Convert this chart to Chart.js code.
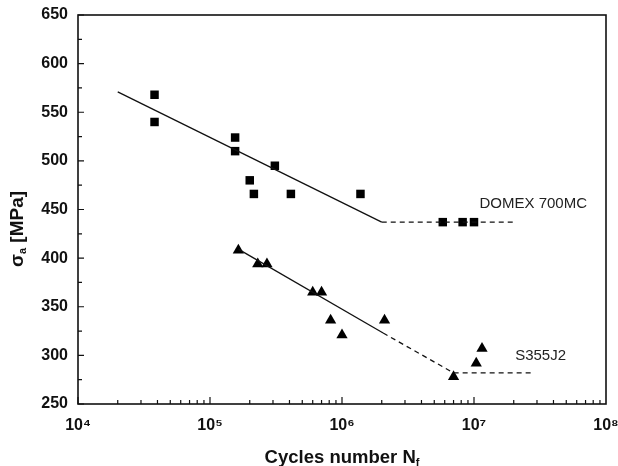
<!DOCTYPE html>
<html>
<head>
<meta charset="utf-8">
<script src="https://cdn.jsdelivr.net/npm/chart.js@4.4.0/dist/chart.umd.min.js"></script>
<style>
  html, body { margin: 0; padding: 0; background: #fff; }
  #wrap { width: 618px; height: 466px; }
</style>
</head>
<body>
<div id="wrap"><canvas id="snChart"></canvas></div>
<script>
// DOMEX 700MC test points
const domexCycles = [3.8e4, 3.8e4, 1.55e5, 1.55e5, 2.0e5, 2.15e5, 3.1e5, 4.1e5, 1.38e6, 5.8e6, 8.2e6, 1.0e7];
const domexStress = [568, 540, 524, 510, 480, 466, 495, 466, 466, 437, 437, 437];

// S355J2 test points
const s355Cycles = [1.64e5, 2.3e5, 2.7e5, 6.0e5, 7.0e5, 8.2e5, 1.0e6, 2.1e6, 7.0e6, 1.04e7, 1.15e7];
const s355Stress = [408, 394, 394, 365, 365, 336, 321, 336, 278, 292, 307];

// fitted S-N curves
const domexFitCycles = [2.0e4, 2.0e6];
const domexFitStress = [571, 437];
const domexLimitCycles = [2.0e6, 2.1e7];
const domexLimitStress = [437, 437];
const s355FitCycles = [1.65e5, 2.05e6];
const s355FitStress = [409, 323];
const s355LimitCycles = [2.05e6, 7.0e6, 2.8e7];
const s355LimitStress = [323, 282, 282];

// axes
const xTickValues = [1e4, 1e5, 1e6, 1e7, 1e8];
const xTickLabels = ['10\u2074', '10\u2075', '10\u2076', '10\u2077', '10\u2078'];
const yTickValues = [250, 300, 350, 400, 450, 500, 550, 600, 650];

const FONT = "'Liberation Sans', Arial, sans-serif";

function pts(xs, ys) {
    return xs.map((x, i) => ({ x: x, y: ys[i] }));
}

// frame, inward ticks, axis titles and curve labels
const decorPlugin = {
    id: 'decor',
    afterDraw(chart) {
        const ctx = chart.ctx;
        const a = chart.chartArea;
        const xs = chart.scales.x;
        const ys = chart.scales.y;
        ctx.save();
        ctx.strokeStyle = '#111';
        ctx.lineWidth = 1.6;
        ctx.strokeRect(a.left, a.top, a.right - a.left, a.bottom - a.top);

        ctx.lineWidth = 1.2;
        ctx.beginPath();
        // y ticks, major every 50, minor every 25
        for (let v = 250; v <= 650; v += 25) {
            const py = ys.getPixelForValue(v);
            const len = (v % 50 === 0) ? 6 : 4;
            ctx.moveTo(a.left, py);
            ctx.lineTo(a.left + len, py);
        }
        // x ticks, log decades with minors
        for (let e = 4; e < 8; e++) {
            for (let k = 1; k <= 9; k++) {
                const px = xs.getPixelForValue(k * Math.pow(10, e));
                const len = k === 1 ? 7 : 4;
                ctx.moveTo(px, a.bottom);
                ctx.lineTo(px, a.bottom - len);
            }
        }
        ctx.stroke();

        // curve labels
        ctx.fillStyle = '#222';
        ctx.font = '15px ' + FONT;
        ctx.textBaseline = 'middle';
        ctx.textAlign = 'left';
        ctx.fillText('DOMEX 700MC', xs.getPixelForValue(1.1e7), ys.getPixelForValue(456));
        ctx.fillText('S355J2', xs.getPixelForValue(2.05e7), ys.getPixelForValue(300));

        // x title with subscript
        ctx.fillStyle = '#111';
        const main = 'Cycles number N';
        ctx.font = 'bold 18.5px ' + FONT;
        const w1 = ctx.measureText(main).width;
        ctx.font = 'bold 11px ' + FONT;
        const w2 = ctx.measureText('f').width;
        let tx = 342 - (w1 + w2) / 2;
        ctx.font = 'bold 18.5px ' + FONT;
        ctx.textBaseline = 'alphabetic';
        ctx.fillText(main, tx, 463);
        ctx.font = 'bold 11px ' + FONT;
        ctx.fillText('f', tx + w1, 466);

        // y title, rotated
        ctx.translate(16, 229);
        ctx.rotate(-Math.PI / 2);
        ctx.font = 'bold 19px ' + FONT;
        const s1 = '\u03c3';
        const s3 = ' [MPa]';
        const ws1 = ctx.measureText(s1).width;
        const ws3 = ctx.measureText(s3).width;
        ctx.font = 'bold 11px ' + FONT;
        const ws2 = ctx.measureText('a').width;
        let ty = -(ws1 + ws2 + ws3) / 2;
        ctx.font = 'bold 19px ' + FONT;
        ctx.fillText(s1, ty, 7);
        ctx.font = 'bold 11px ' + FONT;
        ctx.fillText('a', ty + ws1, 10);
        ctx.font = 'bold 19px ' + FONT;
        ctx.fillText(s3, ty + ws1 + ws2, 7);
        ctx.restore();
    }
};

const lineStyle = {
    type: 'line',
    borderColor: '#111',
    borderWidth: 1.3,
    pointRadius: 0,
    fill: false,
    tension: 0
};

new Chart(document.getElementById('snChart'), {
    type: 'scatter',
    data: {
        datasets: [
            Object.assign({ label: 'DOMEX fit', data: pts(domexFitCycles, domexFitStress) }, lineStyle),
            Object.assign({ label: 'DOMEX limit', data: pts(domexLimitCycles, domexLimitStress), borderDash: [5, 4] }, lineStyle),
            Object.assign({ label: 'S355 fit', data: pts(s355FitCycles, s355FitStress) }, lineStyle),
            Object.assign({ label: 'S355 limit', data: pts(s355LimitCycles, s355LimitStress), borderDash: [5, 4] }, lineStyle),
            {
                label: 'DOMEX 700MC',
                data: pts(domexCycles, domexStress),
                pointStyle: 'rect',
                pointRadius: 6,
                backgroundColor: '#000',
                borderColor: '#000',
                borderWidth: 0
            },
            {
                label: 'S355J2',
                data: pts(s355Cycles, s355Stress),
                pointStyle: 'triangle',
                pointRadius: 6.5,
                backgroundColor: '#000',
                borderColor: '#000',
                borderWidth: 0
            }
        ]
    },
    options: {
        responsive: true,
        maintainAspectRatio: false,
        animation: false,
        layout: { padding: { left: 0, top: 15, right: 12, bottom: 0 } },
        plugins: {
            legend: { display: false },
            tooltip: { enabled: false }
        },
        scales: {
            x: {
                type: 'logarithmic',
                min: 1e4,
                max: 1e8,
                grid: { display: false, drawTicks: false },
                border: { display: false },
                afterBuildTicks: (s) => { s.ticks = xTickValues.map(v => ({ value: v })); },
                afterFit: (s) => {
                    s.height = 62;
                    s.paddingLeft = 0;
                    s.paddingRight = 0;
                },
                ticks: {
                    autoSkip: false,
                    maxRotation: 0,
                    padding: 12,
                    color: '#111',
                    font: { family: FONT, size: 16, weight: 'bold' },
                    callback: (v) => {
                        const i = xTickValues.indexOf(v);
                        return i >= 0 ? xTickLabels[i] : '';
                    }
                }
            },
            y: {
                min: 250,
                max: 650,
                grid: { display: false, drawTicks: false },
                border: { display: false },
                afterBuildTicks: (s) => { s.ticks = yTickValues.map(v => ({ value: v })); },
                afterFit: (s) => {
                    s.width = 78;
                    s.paddingTop = 0;
                    s.paddingBottom = 0;
                },
                ticks: {
                    padding: 10,
                    color: '#111',
                    font: { family: FONT, size: 16, weight: 'bold' }
                }
            }
        }
    },
    plugins: [decorPlugin]
});
</script>
</body>
</html>
